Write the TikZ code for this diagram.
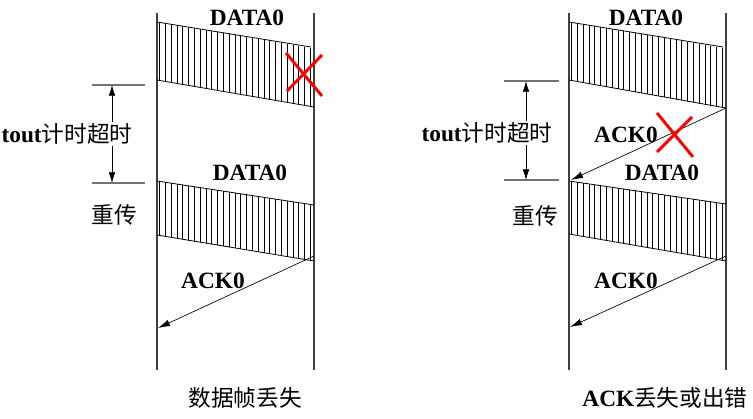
\documentclass[tikz,border=0pt]{standalone}
\usepackage{fontspec}
\setmainfont{Liberation Serif}
\newfontfamily\cjk{Noto Sans CJK SC}
\usepackage{tikz}
\usetikzlibrary{arrows.meta}

\tikzset{
  lbl/.style={font=\fontsize{17.5}{20}\selectfont\bfseries, inner sep=1pt},
  cjklbl/.style={font=\fontsize{17}{20}\selectfont\cjk, inner sep=1pt},
  lifeline/.style={draw=black!75, line width=0.9pt},
  tickline/.style={draw=black!55, line width=0.9pt},
  band/.style={line width=0.6pt},
  hatch/.style={line width=0.5pt},
  msg/.style={-{Latex[length=9pt,width=5pt]}, line width=0.5pt},
  tout/.style={{Latex[length=8pt,width=5pt]}-{Latex[length=8pt,width=5pt]}, line width=0.5pt},
  lost/.style={red, line width=2.2pt},
}

\begin{document}
\begin{tikzpicture}[x=0.75pt,y=-0.75pt]
  \useasboundingbox (0,0) rectangle (753,418);

  %%%%% left: frame lost
  %lifelines
  \coordinate (LsT) at (157,13);  \coordinate (LsB) at (157,370);
  \coordinate (LrT) at (314,13);  \coordinate (LrB) at (314,370);
  \draw[lifeline] (LsT) -- (LsB);
  \draw[lifeline] (LrT) -- (LrB);
  %first DATA0
  \begin{scope}
    \clip (157,22) -- (312,48) -- (314,107) -- (157,80) -- cycle;
    \foreach \x in {159.5,165.3,...,316} \draw[hatch] (\x,0) -- (\x,400);
  \end{scope}
  \draw[band] (157,22) -- (311,47);
  \draw[band] (157,80) -- (314,107);
  \node[lbl] (Ld1) at (247,18) {DATA0};
  %lost
  \draw[lost] (286,53) -- (322,96);
  \draw[lost] (287,91) -- (322,55);
  %timeout
  \coordinate (Lt1a) at (92,85);  \coordinate (Lt1b) at (145,85);
  \coordinate (Lt2a) at (92,183); \coordinate (Lt2b) at (145,183);
  \draw[tickline] (Lt1a) -- (Lt1b);
  \draw[tickline] (Lt2a) -- (Lt2b);
  \draw[tout] (112,85) -- (112,183);
  \node[lbl, fill=white] (Ltout) at (67,134) {tout{\cjk\mdseries\fontsize{17}{20}\selectfont 计时超时}};
  \node[cjklbl] (Lre) at (114,215) {重传};
  %second DATA0
  \begin{scope}
    \clip (157,181) -- (314,205) -- (314,261) -- (157,235) -- cycle;
    \foreach \x in {159.5,165.3,...,316} \draw[hatch] (\x,150) -- (\x,300);
  \end{scope}
  \draw[band] (157,181) -- (314,205);
  \draw[band] (157,235) -- (314,261);
  \node[lbl] (Ld2) at (250,173) {DATA0};
  %ACK0
  \coordinate (La1) at (314,256);
  \coordinate (La2) at (158,328);
  \draw[msg] (La1) -- (La2);
  \node[lbl] (Lack) at (213,281) {ACK0};
  \node[cjklbl] (Lcap) at (245,398) {数据帧丢失};

  %%%%% right: ACK lost or damaged
  %lifelines
  \coordinate (RsT) at (569,13);  \coordinate (RsB) at (569,370);
  \coordinate (RrT) at (726,13);  \coordinate (RrB) at (726,370);
  \draw[lifeline] (RsT) -- (RsB);
  \draw[lifeline] (RrT) -- (RrB);
  %first DATA0
  \begin{scope}
    \clip (569,22) -- (724,48) -- (726,108) -- (569,80) -- cycle;
    \foreach \x in {571.5,577.3,...,728} \draw[hatch] (\x,0) -- (\x,400);
  \end{scope}
  \draw[band] (569,22) -- (723,47);
  \draw[band] (569,80) -- (726,108);
  \node[lbl] (Rd1) at (646,18) {DATA0};
  %ACK0 lost
  \coordinate (Rb1) at (726,108);
  \coordinate (Rb2) at (571,180);
  \draw[msg] (Rb1) -- (Rb2);
  \node[lbl] (Rack1) at (626,135) {ACK0};
  \draw[lost] (657,113) -- (693,157);
  \draw[lost] (657,152) -- (692,117);
  %timeout
  \coordinate (Rt1a) at (504,81);  \coordinate (Rt1b) at (559,81);
  \coordinate (Rt2a) at (504,180); \coordinate (Rt2b) at (559,180);
  \draw[tickline] (Rt1a) -- (Rt1b);
  \draw[tickline] (Rt2a) -- (Rt2b);
  \draw[tout] (526,81) -- (526,180);
  \node[lbl, fill=white] (Rtout) at (487,133) {tout{\cjk\mdseries\fontsize{17}{20}\selectfont 计时超时}};
  \node[cjklbl] (Rre) at (535,216) {重传};
  %second DATA0
  \begin{scope}
    \clip (569,181) -- (726,204) -- (726,261) -- (569,234) -- cycle;
    \foreach \x in {571.5,577.3,...,728} \draw[hatch] (\x,150) -- (\x,300);
  \end{scope}
  \draw[band] (569,181) -- (726,204);
  \draw[band] (569,234) -- (726,261);
  \node[lbl] (Rd2) at (662,173) {DATA0};
  %ACK0
  \coordinate (Ra1) at (726,256);
  \coordinate (Ra2) at (570,327);
  \draw[msg] (Ra1) -- (Ra2);
  \node[lbl] (Rack2) at (626,281) {ACK0};
  \node[lbl] (Rcap) at (665,398) {ACK{\cjk\mdseries\fontsize{17}{20}\selectfont 丢失或出错}};
\end{tikzpicture}
\end{document}
